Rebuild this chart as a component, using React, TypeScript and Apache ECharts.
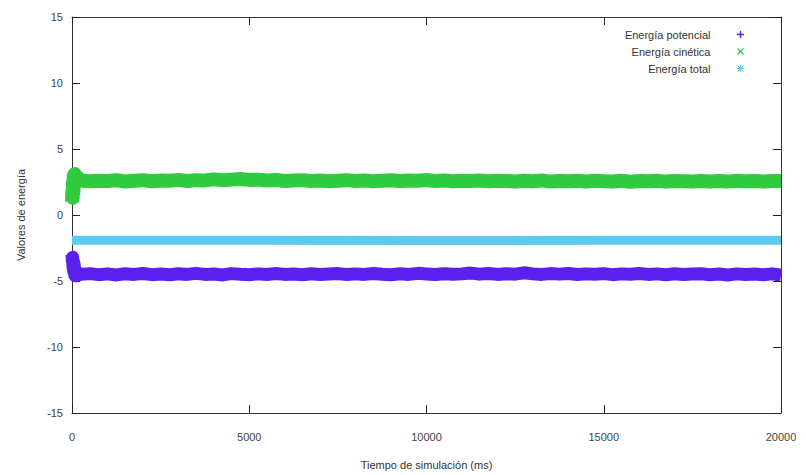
import React, { useEffect, useRef } from "react";
import * as echarts from "echarts";

const times = [
  0, 10, 20, 30, 40, 50, 60, 80, 100, 120, 150, 180, 220,
  250, 500, 750, 1000, 1250, 1500, 1750, 2000, 2250, 2500,
  2750, 3000, 3250, 3500, 3750, 4000, 4250, 4500, 4750, 5000,
  5250, 5500, 5750, 6000, 6250, 6500, 6750, 7000, 7250, 7500,
  7750, 8000, 8250, 8500, 8750, 9000, 9250, 9500, 9750, 10000,
  10250, 10500, 10750, 11000, 11250, 11500, 11750, 12000, 12250, 12500,
  12750, 13000, 13250, 13500, 13750, 14000, 14250, 14500, 14750, 15000,
  15250, 15500, 15750, 16000, 16250, 16500, 16750, 17000, 17250, 17500,
  17750, 18000, 18250, 18500, 18750, 19000, 19250, 19500, 19750, 20000,
];

const kineticValues = [
  1.0, 1.8, 1.3, 2.5, 1.7, 3.0, 2.2, 3.1, 2.4, 2.9, 2.5, 2.8, 2.6,
  2.62, 2.55, 2.6, 2.57, 2.63, 2.54, 2.6, 2.64, 2.56, 2.61,
  2.6, 2.66, 2.58, 2.64, 2.62, 2.7, 2.64, 2.68, 2.72, 2.66,
  2.68, 2.62, 2.65, 2.58, 2.62, 2.64, 2.58, 2.62, 2.56, 2.6,
  2.64, 2.58, 2.62, 2.55, 2.6, 2.63, 2.57, 2.62, 2.59, 2.65,
  2.58, 2.62, 2.55, 2.6, 2.57, 2.62, 2.56, 2.6, 2.58, 2.54,
  2.6, 2.56, 2.62, 2.53, 2.58, 2.56, 2.6, 2.54, 2.59, 2.56,
  2.54, 2.59, 2.52, 2.57, 2.55, 2.6, 2.53, 2.58, 2.55, 2.53,
  2.58, 2.54, 2.57, 2.53, 2.59, 2.55, 2.58, 2.54, 2.58, 2.57,
];

const potentialValues = [
  -3.0, -3.5, -3.2, -4.0, -3.5, -4.3, -3.7, -4.6, -4.2, -4.6, -4.35, -4.55, -4.45,
  -4.5, -4.44, -4.52, -4.46, -4.54, -4.45, -4.5, -4.43, -4.52, -4.47,
  -4.53, -4.45, -4.5, -4.42, -4.5, -4.47, -4.54, -4.44, -4.49, -4.52,
  -4.46, -4.51, -4.43, -4.5, -4.47, -4.53, -4.45, -4.5, -4.47, -4.44,
  -4.51, -4.46, -4.5, -4.43, -4.49, -4.52, -4.45, -4.5, -4.42, -4.47,
  -4.51, -4.45, -4.49, -4.46, -4.4, -4.48, -4.43, -4.5, -4.45, -4.48,
  -4.38, -4.46, -4.5, -4.44, -4.48, -4.43, -4.51, -4.46, -4.49, -4.44,
  -4.52, -4.46, -4.49, -4.43, -4.5, -4.46, -4.53, -4.45, -4.5, -4.47,
  -4.45, -4.52, -4.47, -4.54, -4.46, -4.5, -4.47, -4.53, -4.46, -4.56,
];

const totalTimes = [0, 5000, 10000, 15000, 20000];
const totalValues = [-1.92, -1.92, -1.93, -1.92, -1.92];

const seriesNames = ["Energía potencial", "Energía cinética", "Energía total"];
const xTitle = "Tiempo de simulación (ms)";
const yTitle = "Valores de energía";

const PLUS = "path://M4,0h2v10h-2z M0,4h10v2h-10z";
const CROSS = "path://M1,0L5,3.6L9,0L10,1L6.4,5L10,9L9,10L5,6.4L1,10L0,9L3.6,5L0,1z";
const STAR = "path://M4.3,0h1.4v10h-1.4z M0,4.3h10v1.4h-10z M1,0L5,4L9,0L10,1L6,5L10,9L9,10L5,6L1,10L0,9L4,5L0,1z";

const pairs = (xs: number[], ys: number[]) => xs.map((x, i) => [x, ys[i]]);

export default function App() {
  const ref = useRef<HTMLDivElement>(null);
  useEffect(() => {
    if (!ref.current) return;
    const chart = echarts.init(ref.current, null, { renderer: "svg" });
    const font = "'Liberation Sans', Arial, sans-serif";
    const mkTick = () => ({ show: true, inside: true, length: 8, lineStyle: { color: "#222", width: 1 } });
    const mkLine = () => ({ show: true, onZero: false, lineStyle: { color: "#333", width: 1 } });
    const labelStyle = { color: "#444", fontSize: 11, fontFamily: font };
    chart.setOption({
      animation: false,
      backgroundColor: "#fff",
      grid: { left: 72, right: 25, top: 17, bottom: 62, show: false },
      legend: {
        orient: "vertical",
        align: "right",
        right: 62,
        top: 29,
        padding: 0,
        itemGap: 6,
        itemWidth: 50,
        itemHeight: 7,
        textStyle: { color: "#333", fontSize: 11, fontFamily: font },
        data: [
          { name: seriesNames[0], icon: PLUS },
          { name: seriesNames[1], icon: CROSS },
          { name: seriesNames[2], icon: STAR },
        ],
      },
      xAxis: [
        {
          type: "value",
          position: "bottom",
          min: 0,
          max: 20000,
          interval: 5000,
          name: xTitle,
          nameLocation: "middle",
          nameGap: 46,
          nameTextStyle: { color: "#333", fontSize: 11, fontFamily: font },
          axisLine: mkLine(),
          axisTick: mkTick(),
          axisLabel: { ...labelStyle, margin: 18, formatter: (v: number) => String(v) },
          splitLine: { show: false },
        },
        {
          type: "value",
          position: "top",
          min: 0,
          max: 20000,
          interval: 5000,
          axisLine: mkLine(),
          axisTick: mkTick(),
          axisLabel: { show: false },
          splitLine: { show: false },
        },
      ],
      yAxis: [
        {
          type: "value",
          position: "left",
          min: -15,
          max: 15,
          interval: 5,
          name: yTitle,
          nameLocation: "middle",
          nameGap: 46,
          nameTextStyle: { color: "#333", fontSize: 11, fontFamily: font },
          axisLine: mkLine(),
          axisTick: mkTick(),
          axisLabel: { ...labelStyle, margin: 9 },
          splitLine: { show: false },
        },
        {
          type: "value",
          position: "right",
          min: -15,
          max: 15,
          interval: 5,
          axisLine: mkLine(),
          axisTick: mkTick(),
          axisLabel: { show: false },
          splitLine: { show: false },
        },
      ],
      series: [
        {
          name: seriesNames[0],
          type: "line",
          showSymbol: false,
          color: "#5c20ee",
          lineStyle: { width: 13, color: "#5c20ee", join: "round" },
          data: pairs(times, potentialValues),
        },
        {
          name: seriesNames[1],
          type: "line",
          showSymbol: false,
          color: "#2fcc40",
          lineStyle: { width: 14, color: "#2fcc40", join: "round" },
          data: pairs(times, kineticValues),
        },
        {
          name: seriesNames[2],
          type: "line",
          showSymbol: false,
          color: "#5ccaee",
          lineStyle: { width: 9, color: "#5ccaee" },
          data: pairs(totalTimes, totalValues),
        },
      ],
    });
    return () => chart.dispose();
  }, []);
  return (
    <div
      ref={ref}
      style={{ position: "fixed", left: 0, top: 0, width: 806, height: 475 }}
    />
  );
}
